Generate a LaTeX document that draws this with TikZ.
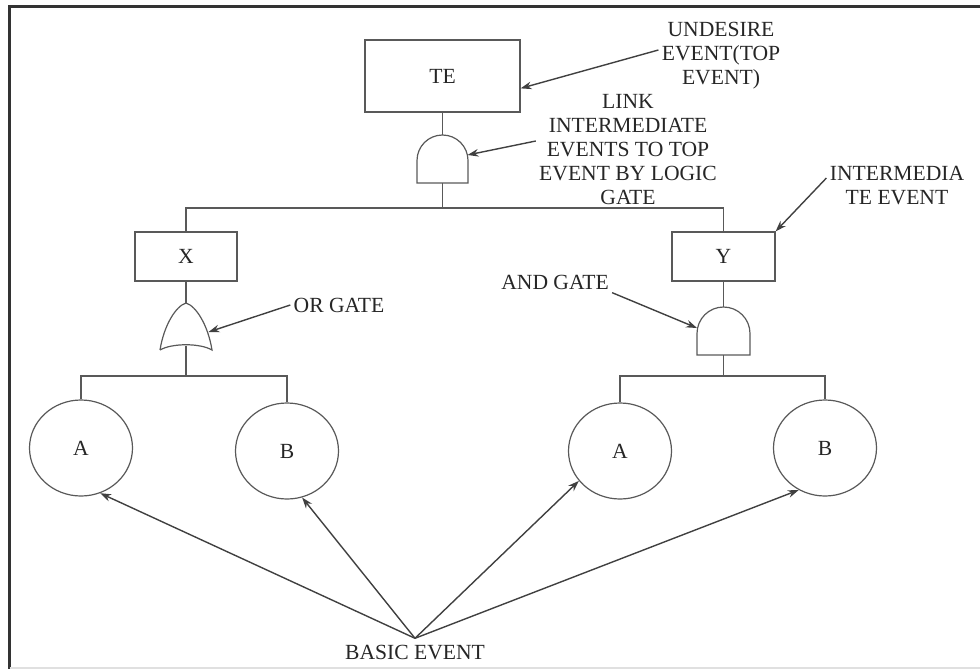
\documentclass[tikz,border=0pt]{standalone}
\usepackage{fontspec}
\setmainfont{Liberation Serif}
\usetikzlibrary{shapes.geometric,arrows.meta}

\begin{document}
\begin{tikzpicture}[
    x=0.5pt, y=-0.5pt,
    every node/.style={font=\fontsize{10.8}{12}\selectfont, text=black!85, inner sep=1.5pt},
    event/.style={rectangle, draw=black!65, line width=0.6pt},
    basic/.style={ellipse, draw=black!65, line width=0.6pt, minimum width=51.5pt, minimum height=48pt},
    note/.style={align=center},
    wire/.style={draw=black!65, line width=0.6pt},
    arrow/.style={->, >={Stealth[length=5.5pt,width=3.8pt]}, draw=black!75, line width=0.7pt}
]
    \useasboundingbox (0,0) rectangle (980,669);
    % frame
    \draw[black!80, line width=1.2pt] (9.5,669) -- (9.5,6.5) -- (980,6.5);
    \draw[black!12, line width=1pt] (9.5,667.5) -- (980,667.5);

    % events
    \node[event, minimum width=77.5pt, minimum height=36pt] (te) at (442.5,76) {TE};
    \node[event, minimum width=51pt, minimum height=24.5pt] (x) at (186,256.5) {X};
    \node[event, minimum width=51.5pt, minimum height=24.5pt] (y) at (723.5,256.5) {Y};
    \node[basic] (aL) at (81,448) {A};
    \node[basic] (bL) at (287,451) {B};
    \node[basic] (aR) at (620,451) {A};
    \node[basic] (bR) at (825,448) {B};

    % gates
    \draw[wire] (417,183) -- (417,160.5) arc[start angle=180, end angle=360, radius=25.5] -- (468,183) -- cycle;
    \coordinate (gTopT) at (442.5,135);
    \coordinate (gTopB) at (442.5,183);
    \coordinate (gTopR) at (467.5,155);
    \draw[wire] (160,350) .. controls (164,325) and (176,306) .. (186,303) .. controls (196,306) and (208,325) .. (212,350) .. controls (200,343) and (172,343) .. (160,350);
    \coordinate (orT) at (186,303);
    \coordinate (orB) at (186,345.6);
    \coordinate (orR) at (208.5,332);
    \draw[wire] (697,355) -- (697,333.5) arc[start angle=180, end angle=360, radius=26.5] -- (750,355) -- cycle;
    \coordinate (andT) at (723.5,307);
    \coordinate (andB) at (723.5,355);
    \coordinate (andL) at (697,328);

    % tree
    \coordinate (busTop) at (442.5,208);
    \coordinate (busL) at (186,376);
    \coordinate (busR) at (723.5,376);
    \draw[wire] (te.south) -- (gTopT);
    \draw[wire] (gTopB) -- (busTop);
    \draw[wire] (x.north) |- (busTop) -| (y.north);
    \draw[wire] (x.south) -- (orT);
    \draw[wire] (orB) -- (busL);
    \draw[wire] (aL.north) |- (busL) -| (bL.north);
    \draw[wire] (y.south) -- (andT);
    \draw[wire] (andB) -- (busR);
    \draw[wire] (aR.north) |- (busR) -| (bR.north);

    % notes
    \node[note] (lblTop) at (721,56) {UNDESIRE\\EVENT(TOP\\EVENT)};
    \node[note] (lblLink) at (628,150) {LINK\\INTERMEDIATE\\EVENTS TO TOP\\EVENT BY LOGIC\\GATE};
    \node[note] (lblInter) at (897,186) {INTERMEDIA\\TE EVENT};
    \node[note] (lblOr) at (339,305) {OR GATE};
    \node[note] (lblAnd) at (555,282) {AND GATE};
    \node[note] (be) at (415,653) {BASIC EVENT};
    \coordinate (beTop) at ([yshift=2pt]be.north);

    \draw[arrow] ([yshift=3pt]lblTop.west) -- (te.-9);
    \draw[arrow] ([yshift=4.5pt]lblLink.west) -- (gTopR);
    \draw[arrow] ([yshift=4pt]lblInter.west) -- (y.north east);
    \draw[arrow] (lblOr.west) -- (orR);
    \draw[arrow] (lblAnd.south east) -- (andL);
    \draw[arrow] (beTop) -- (aL.-67);
    \draw[arrow] (beTop) -- (bL.-72);
    \draw[arrow] (beTop) -- (aR.-144);
    \draw[arrow] (beTop) -- (bR.-122);
\end{tikzpicture}
\end{document}
